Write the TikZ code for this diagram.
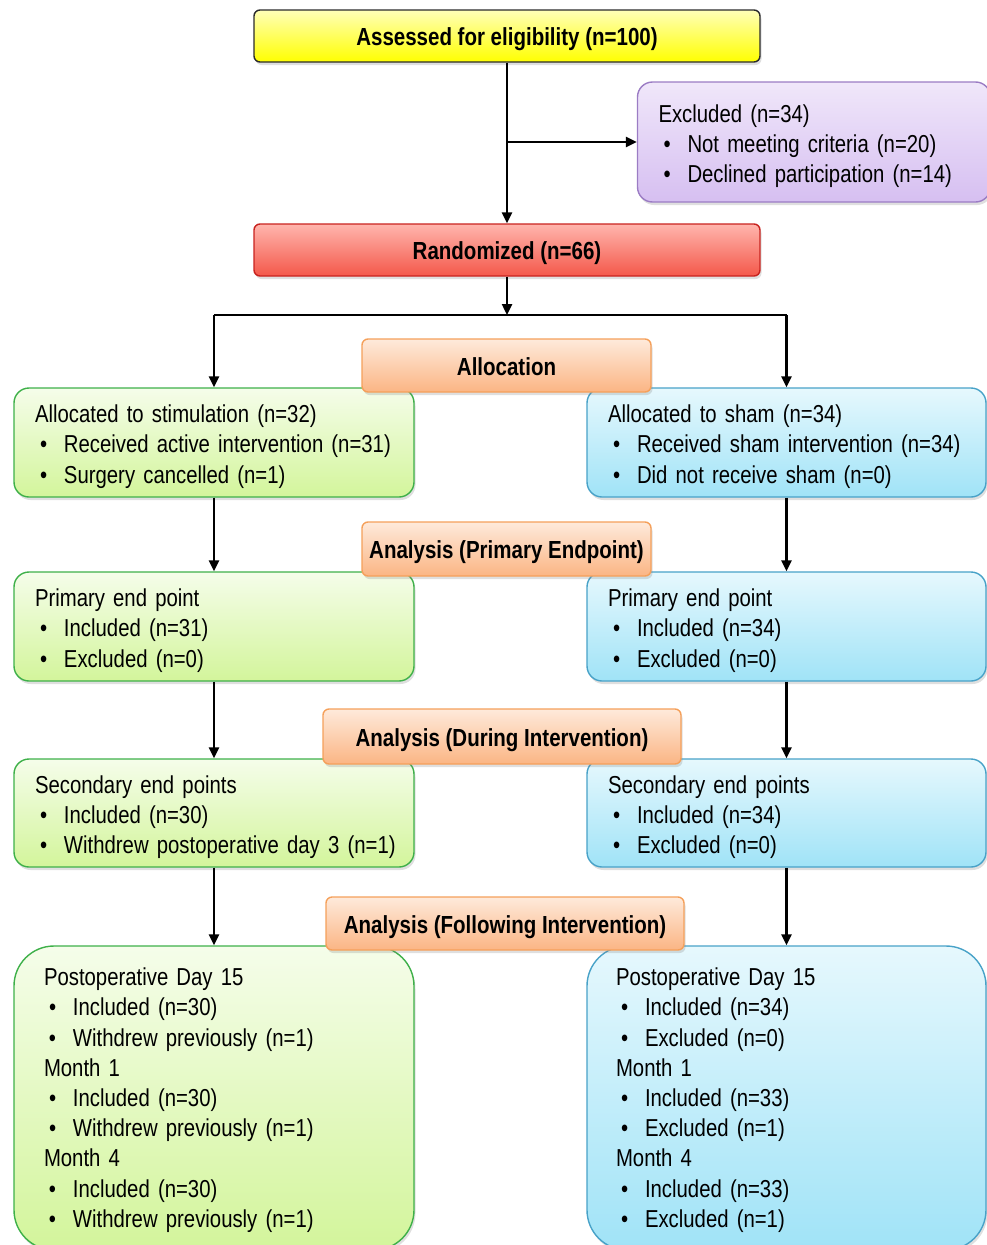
\documentclass[tikz,border=0pt]{standalone}
\usepackage{fontspec}
\setmainfont{Liberation Sans}[FakeStretch=0.83]
\usetikzlibrary{shadows,arrows.meta}
\definecolor{ylT}{HTML}{FFFFB8}\definecolor{ylB}{HTML}{FFFF00}\definecolor{ylD}{HTML}{2B2B2B}
\definecolor{puT}{HTML}{F0E7FA}\definecolor{puB}{HTML}{D6BFF1}\definecolor{puD}{HTML}{9B7CC4}
\definecolor{rdT}{HTML}{FFB5AD}\definecolor{rdB}{HTML}{F4584A}\definecolor{rdD}{HTML}{C8221E}
\definecolor{orT}{HTML}{FEEADB}\definecolor{orB}{HTML}{FBB584}\definecolor{orD}{HTML}{F5A05A}
\definecolor{grT}{HTML}{F5FDEA}\definecolor{grB}{HTML}{D3F59B}\definecolor{grD}{HTML}{3EB049}
\definecolor{blT}{HTML}{E6F8FD}\definecolor{blB}{HTML}{A0E3F7}\definecolor{blD}{HTML}{48A2C8}
\newcommand\bitem[1]{\mbox{\hspace*{5pt}\makebox[24pt][l]{•}#1}}
\newcommand\fl{\rule{0pt}{26pt}}
\newcommand\flb{\rule{0pt}{22pt}}
\tikzset{
  base/.style={rounded corners=6pt, line width=1.4pt, inner sep=0pt,
    drop shadow={opacity=0.25, shadow xshift=1.5pt, shadow yshift=-3pt}},
  head/.style={base, align=center, text height=24pt, text depth=5pt,
    font=\fontsize{24.7}{28}\selectfont\bfseries},
  content/.style={base, rounded corners=15pt, align=left, inner xsep=21pt,
    font=\fontsize{24.5}{30.2}\selectfont},
  yel/.style={draw=ylD, top color=ylT, bottom color=ylB},
  pur/.style={draw=puD, top color=puT, bottom color=puB},
  red/.style={draw=rdD, top color=rdT, bottom color=rdB},
  ora/.style={draw=orD, top color=orT, bottom color=orB},
  grn/.style={draw=grD, top color=grT, bottom color=grB},
  blu/.style={draw=blD, top color=blT, bottom color=blB},
  conn/.style={line width=2.4pt, -{Triangle[length=11pt,width=10pt]}},
  plain/.style={line width=2.4pt}
}
\begin{document}
\begin{tikzpicture}[x=1pt,y=-1pt]
\useasboundingbox (0,0) rectangle (986,1245);
% top
\node[head, yel, minimum width=506pt, minimum height=52pt] (elig) at (507,36) {Assessed for eligibility (n=100)};
\node[content, pur, text width=311pt, minimum height=120pt] (excl) at (814,142)
  {\fl Excluded (n=34)\\ \bitem{Not meeting criteria (n=20)}\\ \bitem{Declined participation (n=14)}};
\node[head, red, minimum width=506pt, minimum height=52pt] (rand) at (507,250) {Randomized (n=66)};
% content boxes
\node[content, grn, text width=358pt, minimum height=109pt] (g1) at (214,442.5)
  {\fl Allocated to stimulation (n=32)\\ \bitem{Received active intervention (n=31)}\\ \bitem{Surgery cancelled (n=1)}};
\node[content, blu, text width=357pt, minimum height=109pt] (b1) at (786.5,442.5)
  {\fl Allocated to sham (n=34)\\ \bitem{Received sham intervention (n=34)}\\ \bitem{Did not receive sham (n=0)}};
\node[content, grn, text width=358pt, minimum height=109pt] (g2) at (214,626.5)
  {\fl Primary end point\\ \bitem{Included (n=31)}\\ \bitem{Excluded (n=0)}};
\node[content, blu, text width=357pt, minimum height=109pt] (b2) at (786.5,626.5)
  {\fl Primary end point\\ \bitem{Included (n=34)}\\ \bitem{Excluded (n=0)}};
\node[content, grn, text width=358pt, minimum height=108pt] (g3) at (214,813)
  {\fl Secondary end points\\ \bitem{Included (n=30)}\\ \bitem{Withdrew postoperative day 3 (n=1)}};
\node[content, blu, text width=357pt, minimum height=108pt] (b3) at (786.5,813)
  {\fl Secondary end points\\ \bitem{Included (n=34)}\\ \bitem{Excluded (n=0)}};
\node[content, grn, rounded corners=40pt, inner xsep=30pt, text width=340pt, minimum height=304pt] (g4) at (214,1098)
  {\flb Postoperative Day 15\\ \bitem{Included (n=30)}\\ \bitem{Withdrew previously (n=1)}\\
   Month 1\\ \bitem{Included (n=30)}\\ \bitem{Withdrew previously (n=1)}\\
   Month 4\\ \bitem{Included (n=30)}\\ \bitem{Withdrew previously (n=1)}};
\node[content, blu, rounded corners=40pt, inner xsep=29pt, text width=341pt, minimum height=304pt] (b4) at (786.5,1098)
  {\flb Postoperative Day 15\\ \bitem{Included (n=34)}\\ \bitem{Excluded (n=0)}\\
   Month 1\\ \bitem{Included (n=33)}\\ \bitem{Excluded (n=1)}\\
   Month 4\\ \bitem{Included (n=33)}\\ \bitem{Excluded (n=1)}};
% stage labels
\node[head, ora, minimum width=289pt, minimum height=53pt] (alloc) at (506.5,365.5) {Allocation};
\node[head, ora, minimum width=289pt, minimum height=54pt] (ap) at (506.5,549) {Analysis (Primary Endpoint)};
\node[head, ora, minimum width=358pt, minimum height=55pt] (ad) at (502,736.5) {Analysis (During Intervention)};
\node[head, ora, minimum width=358pt, minimum height=53pt] (af) at (505,923.5) {Analysis (Following Intervention)};
% connectors
\coordinate (split) at (507,315);
\coordinate (exb) at (elig.south |- excl.west);
\draw[conn] (elig.south) -- (rand.north);
\draw[conn] (exb) -- (excl.west);
\draw[conn] (rand.south) -- (split);
\draw[plain] (g1.north |- split) -- (b1.north |- split);
\draw[conn] (g1.north |- split) -- (g1.north);
\draw[conn] (b1.north |- split) -- (b1.north);
\draw[conn] (g1.south) -- (g2.north);
\draw[conn] (b1.south) -- (b2.north);
\draw[conn] (g2.south) -- (g3.north);
\draw[conn] (b2.south) -- (b3.north);
\draw[conn] (g3.south) -- (g4.north);
\draw[conn] (b3.south) -- (b4.north);
\end{tikzpicture}
\end{document}
